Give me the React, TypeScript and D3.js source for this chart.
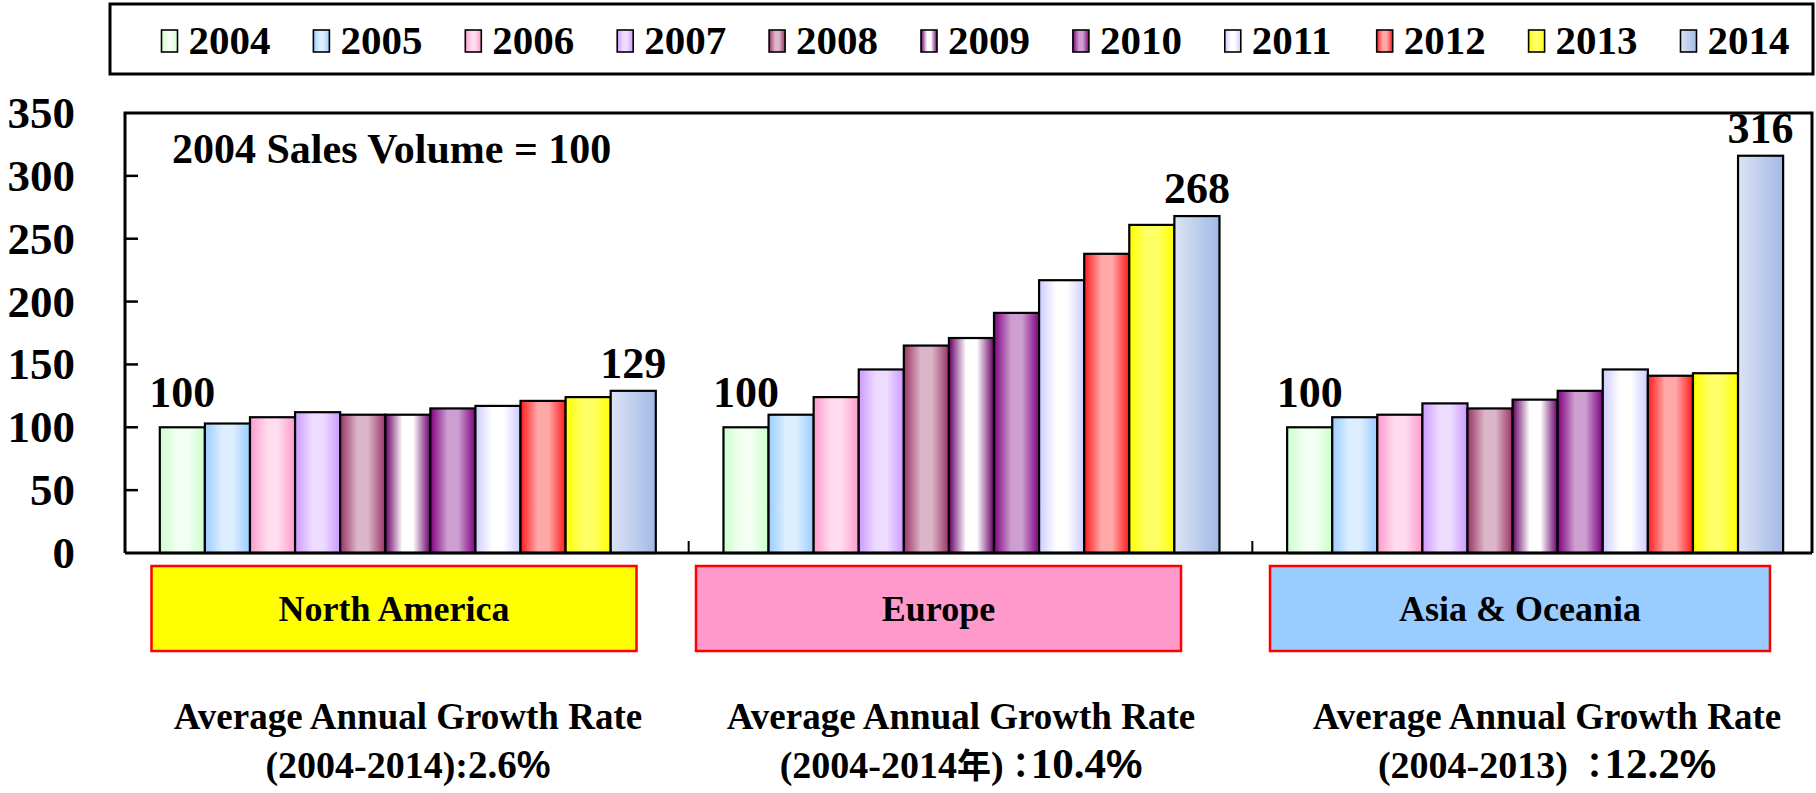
import { useRef, useEffect } from 'react';
import * as d3 from 'd3';

const YEARS = ['2004', '2005', '2006', '2007', '2008', '2009', '2010', '2011', '2012', '2013', '2014'];
const REGIONS = ['North America', 'Europe', 'Asia & Oceania'];

// index, 2004 = 100
const NORTH_AMERICA = [100, 103, 108, 112, 110, 110, 115, 117, 121, 124, 129];
const EUROPE = [100, 110, 124, 146, 165, 171, 191, 217, 238, 261, 268];
const ASIA_OCEANIA = [100, 108, 110, 119, 115, 122, 129, 146, 141, 143, 316];
const SERIES = [NORTH_AMERICA, EUROPE, ASIA_OCEANIA];

const Y_TICKS = [0, 50, 100, 150, 200, 250, 300, 350];

const GROWTH_PERIODS = ['(2004-2014):', '(2004-2014年)：', '(2004-2013) ：'];
const GROWTH_RATES = ['2.6', '10.4', '12.2'];

// bar gradient: left edge, centre, right edge
const EDGE = ['#ccffcc', '#99ccff', '#ff99cc', '#cc99ff', '#993366', '#660066', '#800080', '#ccccff', '#ff1a1a', '#ffff00', '#dce4f3'];
const MID = ['#f2fff2', '#ddeeff', '#ffdcee', '#eedcff', '#dbb6c8', '#ffffff', '#cc9fd0', '#ffffff', '#ffa8a8', '#ffff66', '#c4d2ee'];
const END = ['#ccffcc', '#99ccff', '#ff99cc', '#cc99ff', '#993366', '#660066', '#800080', '#ccccff', '#ff1a1a', '#ffff00', '#a2b9e6'];

const BOX_FILL = ['#ffff00', '#ff99cc', '#99ccff'];

const W = 1816;
const H = 793;
const SERIF = "'Liberation Serif', 'Times New Roman', serif";
const CJK = "'Noto Sans CJK JP', sans-serif";
const SANS = "'Liberation Sans', Arial, sans-serif";

// split a string into latin / CJK runs so each can get its own font
function scriptRuns(s: string) {
  const runs: { text: string; cjk: boolean }[] = [];
  for (const ch of s) {
    const cjk = ch.charCodeAt(0) > 0x2e7f;
    const lastRun = runs[runs.length - 1];
    if (lastRun && lastRun.cjk === cjk) lastRun.text += ch;
    else runs.push({ text: ch, cjk });
  }
  return runs;
}

export default function App() {
  const svgRef = useRef<SVGSVGElement>(null);

  useEffect(() => {
    if (!svgRef.current) return;
    const svg = d3.select(svgRef.current);
    svg.selectAll('*').remove();

    const plot = { left: 125, right: 1812, top: 113, bottom: 553 };

    const defs = svg.append('defs');
    YEARS.forEach((yr, i) => {
      const g = defs.append('linearGradient').attr('id', `g${yr}`)
        .attr('x1', '0%').attr('x2', '100%').attr('y1', '0%').attr('y2', '0%');
      if (i === YEARS.length - 1) {
        // 2014 is a plain left-to-right ramp
        g.append('stop').attr('offset', '0%').attr('stop-color', EDGE[i]);
        g.append('stop').attr('offset', '100%').attr('stop-color', END[i]);
        return;
      }
      g.append('stop').attr('offset', '0%').attr('stop-color', EDGE[i]);
      g.append('stop').attr('offset', '38%').attr('stop-color', MID[i]);
      g.append('stop').attr('offset', '62%').attr('stop-color', MID[i]);
      g.append('stop').attr('offset', '100%').attr('stop-color', END[i]);
    });

    svg.append('rect').attr('width', W).attr('height', H).attr('fill', '#fff');

    // ── legend ──
    svg.append('rect')
      .attr('x', 110).attr('y', 4).attr('width', 1703).attr('height', 70)
      .attr('fill', '#fff').attr('stroke', '#000').attr('stroke-width', 3);
    const legendX = d3.scaleLinear().domain([0, 1]).range([161.5, 313.4]);
    YEARS.forEach((yr, i) => {
      const x = legendX(i);
      svg.append('rect')
        .attr('x', x).attr('y', 30).attr('width', 16).attr('height', 22)
        .attr('fill', `url(#g${yr})`).attr('stroke', '#000').attr('stroke-width', 1.6);
      svg.append('text')
        .attr('x', x + 27).attr('y', 54)
        .attr('font-family', SERIF).attr('font-weight', 'bold').attr('font-size', 41)
        .text(yr);
    });

    // ── scales ──
    const y = d3.scaleLinear().domain([0, 350]).range([plot.bottom, plot.top]);
    const gx = d3.scaleBand<string>().domain(REGIONS).range([plot.left, 1816]);
    const bx = d3.scaleBand<string>().domain(YEARS).range([34.8, 530.8]);

    // frame
    svg.append('path')
      .attr('d', `M${plot.left},${plot.bottom}V${plot.top}H${plot.right}V${plot.bottom}`)
      .attr('fill', 'none').attr('stroke', '#000').attr('stroke-width', 3);

    // y ticks (inward) + labels
    Y_TICKS.forEach(t => {
      if (t > 0 && t < 350) {
        svg.append('line')
          .attr('x1', plot.left).attr('x2', plot.left + 13)
          .attr('y1', y(t)).attr('y2', y(t))
          .attr('stroke', '#000').attr('stroke-width', 2.5);
      }
      svg.append('text')
        .attr('x', 75).attr('y', y(t) + 15)
        .attr('text-anchor', 'end')
        .attr('font-family', SERIF).attr('font-weight', 'bold').attr('font-size', 45)
        .text(t);
    });

    // bars
    REGIONS.forEach((r, ri) => {
      const g = svg.append('g').attr('transform', `translate(${gx(r)},0)`);
      g.selectAll('rect.bar')
        .data(SERIES[ri])
        .join('rect')
        .attr('class', 'bar')
        .attr('x', (_, i) => bx(YEARS[i])!)
        .attr('y', d => y(d))
        .attr('width', bx.bandwidth())
        .attr('height', d => y(0) - y(d))
        .attr('fill', (_, i) => `url(#g${YEARS[i]})`)
        .attr('stroke', '#000').attr('stroke-width', 2.2);

      // first / last value labels
      const vals = SERIES[ri];
      const last = vals.length - 1;
      [[0, 20], [last, 13]].forEach(([i, off]) => {
        g.append('text')
          .attr('x', bx(YEARS[i])! + bx.bandwidth() / 2)
          .attr('y', y(vals[i]) - off)
          .attr('text-anchor', 'middle')
          .attr('font-family', SERIF).attr('font-weight', 'bold').attr('font-size', 44)
          .text(vals[i]);
      });

      // group separator tick
      if (ri > 0) {
        svg.append('line')
          .attr('x1', gx(r)!).attr('x2', gx(r)!)
          .attr('y1', plot.bottom).attr('y2', plot.bottom - 12)
          .attr('stroke', '#000').attr('stroke-width', 2);
      }
    });

    // baseline
    svg.append('line')
      .attr('x1', plot.left).attr('x2', plot.right)
      .attr('y1', plot.bottom).attr('y2', plot.bottom)
      .attr('stroke', '#000').attr('stroke-width', 3);

    svg.append('text')
      .attr('x', 172).attr('y', 163)
      .attr('font-family', SERIF).attr('font-weight', 'bold').attr('font-size', 42)
      .text('2004 Sales Volume = 100');

    // region boxes
    const boxes = [
      { x: 151.5, w: 485 },
      { x: 696, w: 485 },
      { x: 1270, w: 500 },
    ];
    REGIONS.forEach((r, i) => {
      const b = boxes[i];
      svg.append('rect')
        .attr('x', b.x).attr('y', 566).attr('width', b.w).attr('height', 85)
        .attr('fill', BOX_FILL[i]).attr('stroke', '#ff0000').attr('stroke-width', 2.5);
      svg.append('text')
        .attr('x', b.x + b.w / 2).attr('y', 621)
        .attr('text-anchor', 'middle')
        .attr('font-family', SERIF).attr('font-weight', 'bold').attr('font-size', 36)
        .text(r);
    });

    // growth rates
    const growthX = [408, 961, 1547];
    REGIONS.forEach((_, i) => {
      svg.append('text')
        .attr('x', growthX[i]).attr('y', 729)
        .attr('text-anchor', 'middle')
        .attr('font-family', SERIF).attr('font-weight', 'bold').attr('font-size', 37)
        .text('Average Annual Growth Rate');
      const t = svg.append('text')
        .attr('x', growthX[i]).attr('y', 778)
        .attr('text-anchor', 'middle')
        .attr('font-family', SERIF).attr('font-weight', 'bold').attr('font-size', 38);
      scriptRuns(GROWTH_PERIODS[i]).forEach(run => {
        const sp = t.append('tspan').text(run.text);
        if (run.cjk) {
          sp.attr('font-family', CJK).attr('font-size', 34);
          if (run.text.endsWith('：')) sp.attr('letter-spacing', -7);
        }
      });
      t.append('tspan')
        .attr('font-size', i === 0 ? 39 : 43)
        .text(GROWTH_RATES[i]);
      t.append('tspan').attr('font-family', SANS).attr('font-size', i === 0 ? 38 : 41).text('%');
    });
  }, []);

  return (
    <svg ref={svgRef} width={W} height={H}
      style={{ position: 'absolute', left: 0, top: 0, display: 'block' }} />
  );
}
